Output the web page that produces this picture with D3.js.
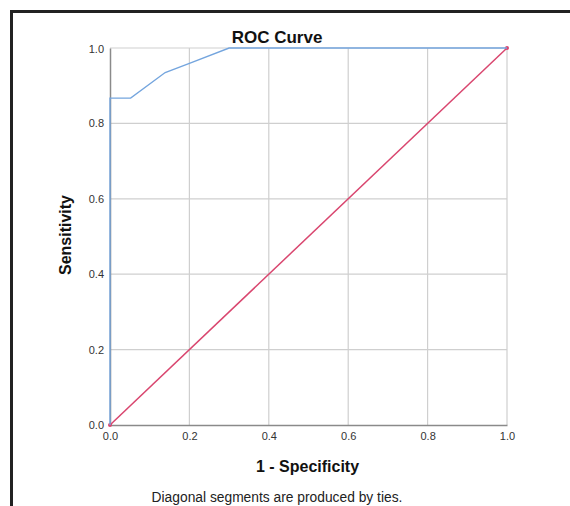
<!DOCTYPE html>
<html>
<head>
<meta charset="utf-8">
<script src="https://cdn.jsdelivr.net/npm/d3@7"></script>
<style>
  body { margin: 0; background: #fff; }
  text { font-family: "Liberation Sans", Arial, sans-serif; }
</style>
</head>
<body>
<div class="content"></div>
<script>
(function() {

  // Chart data
  var fpr = [0, 0, 0.052, 0.139, 0.2, 0.30, 1.0];
  var tpr = [0, 0.867, 0.867, 0.935, 0.959, 1.0, 1.0];
  var refX = [0, 1];
  var refY = [0, 1];
  var ticks = [0, 0.2, 0.4, 0.6, 0.8, 1.0];

  // Design variables
  var width = 570;
  var height = 506;
  var margin = {top: 48, right: 63, bottom: 81, left: 110};
  var innerW = width - margin.left - margin.right;
  var innerH = height - margin.top - margin.bottom;

  var x = d3.scaleLinear().domain([0, 1]).range([0, innerW]);
  var y = d3.scaleLinear().domain([0, 1]).range([innerH, 0]);

  var svg = d3.select(".content").append("svg")
      .attr("width", width)
      .attr("height", height);

  // outer frame (only top and left show)
  svg.append("path")
      .attr("d", "M11.5," + height + " V11.5 H" + width)
      .attr("fill", "none")
      .attr("stroke", "#222")
      .attr("stroke-width", 3);

  var chart = svg.append("g")
      .attr("transform", "translate(" + margin.left + "," + margin.top + ")");

  // gridlines
  chart.append("g").selectAll("line")
      .data(ticks.slice(1))
      .enter().append("line")
      .attr("x1", function(d) { return x(d); })
      .attr("x2", function(d) { return x(d); })
      .attr("y1", 0)
      .attr("y2", innerH)
      .attr("stroke", "#cfcfcf")
      .attr("stroke-width", 1.2);

  chart.append("g").selectAll("line")
      .data(ticks.slice(1))
      .enter().append("line")
      .attr("x1", 0)
      .attr("x2", innerW)
      .attr("y1", function(d) { return y(d); })
      .attr("y2", function(d) { return y(d); })
      .attr("stroke", "#cfcfcf")
      .attr("stroke-width", 1.2);

  // axes
  var fmt = d3.format(".1f");
  var xAxis = chart.append("g")
      .attr("transform", "translate(0," + innerH + ")")
      .call(d3.axisBottom(x).tickValues(ticks).tickFormat(fmt).tickSize(0).tickPadding(6));
  var yAxis = chart.append("g")
      .call(d3.axisLeft(y).tickValues(ticks).tickFormat(fmt).tickSize(0).tickPadding(6));

  [xAxis, yAxis].forEach(function(a) {
    a.select(".domain").attr("stroke", "#8a8a8a").attr("stroke-width", 1.5);
    a.selectAll("text")
        .attr("fill", "#333")
        .style("font-size", "11px")
        .style("font-family", "'Liberation Sans', Arial, sans-serif");
  });
  xAxis.selectAll(".tick text").attr("dy", "0.8em");
  yAxis.selectAll(".tick").filter(function(d) { return d === 1; })
      .select("text").attr("dy", "0.45em");

  var line = d3.line()
      .x(function(d) { return x(d[0]); })
      .y(function(d) { return y(d[1]); });

  // reference diagonal
  var refData = d3.zip(refX, refY);
  chart.append("path")
      .datum(refData)
      .attr("d", line)
      .attr("fill", "none")
      .attr("stroke", "#d9466f")
      .attr("stroke-width", 1.5);
  chart.selectAll(".refdot")
      .data(refData)
      .enter().append("circle")
      .attr("class", "refdot")
      .attr("cx", function(d) { return x(d[0]); })
      .attr("cy", function(d) { return y(d[1]); })
      .attr("r", 2)
      .attr("fill", "#d9466f");

  // ROC curve
  chart.append("path")
      .datum(d3.zip(fpr, tpr))
      .attr("d", line)
      .attr("fill", "none")
      .attr("stroke", "#74a5de")
      .attr("stroke-width", 1.4);

  // titles
  svg.append("text")
      .attr("x", 277)
      .attr("y", 43)
      .attr("text-anchor", "middle")
      .style("font-size", "17px")
      .style("font-weight", "bold")
      .attr("fill", "#111")
      .text("ROC Curve");

  svg.append("text")
      .attr("x", 307.5)
      .attr("y", 472)
      .attr("text-anchor", "middle")
      .style("font-size", "16px")
      .style("font-weight", "bold")
      .attr("fill", "#111")
      .text("1 - Specificity");

  svg.append("text")
      .attr("transform", "translate(71,235) rotate(-90)")
      .attr("text-anchor", "middle")
      .style("font-size", "16px")
      .style("font-weight", "bold")
      .attr("fill", "#111")
      .text("Sensitivity");

  svg.append("text")
      .attr("x", 277)
      .attr("y", 502)
      .attr("text-anchor", "middle")
      .style("font-size", "13.8px")
      .attr("fill", "#222")
      .text("Diagonal segments are produced by ties.");

})();
</script>
</body>
</html>
